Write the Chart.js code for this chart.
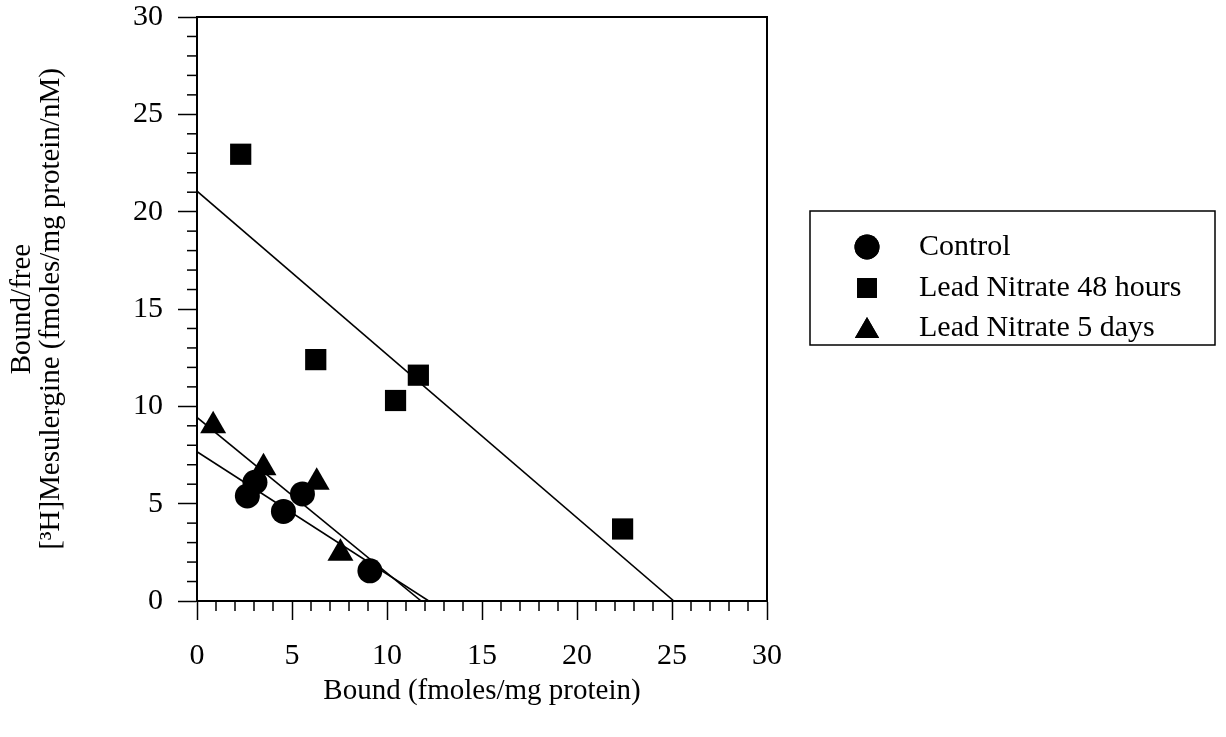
<!DOCTYPE html>
<html>
<head>
<meta charset="utf-8">
<script src="https://cdn.jsdelivr.net/npm/chart.js@4.4.1/dist/chart.umd.min.js"></script>
<style>
  html, body { margin: 0; padding: 0; background: #fff; }
  #wrap { width: 1226px; height: 737px; }
</style>
</head>
<body>
<div id="wrap"><canvas id="scatchardChart" width="1226" height="737"></canvas></div>
<script>
// Scatchard plot: [3H]mesulergine binding
const seriesNames = ['Control', 'Lead Nitrate 48 hours', 'Lead Nitrate 5 days'];
const seriesStyles = ['circle', 'rect', 'triangle'];

const controlBound = [2.65, 3.05, 4.55, 5.55, 9.1];
const controlRatio = [5.4, 6.1, 4.6, 5.5, 1.55];
const lead48Bound = [2.3, 6.25, 10.45, 11.65, 22.4];
const lead48Ratio = [22.95, 12.4, 10.3, 11.6, 3.7];
const lead5dBound = [0.85, 3.5, 6.3, 7.55];
const lead5dRatio = [9.0, 6.85, 6.1, 2.45];

// regression lines, end points (y-intercept and x-intercept)
const controlFitX = [0, 12.2];
const controlFitY = [7.67, 0];
const lead48FitX = [0, 25.1];
const lead48FitY = [21.05, 0];
const lead5dFitX = [0, 11.8];
const lead5dFitY = [9.43, 0];

const xTickLabels = ['0', '5', '10', '15', '20', '25', '30'];
const yTickLabels = ['0', '5', '10', '15', '20', '25', '30'];
const xTitle = 'Bound (fmoles/mg protein)';
const yTitle = ['Bound/free', '[\u00B3H]Mesulergine (fmoles/mg protein/nM)'];

const FONT = "'Liberation Serif', 'Times New Roman', serif";
const TICK_SIZE = 30;
const TITLE_SIZE = 29;

function toPoints(xs, ys) {
    return xs.map((x, i) => ({ x: x, y: ys[i] }));
}

function markerSet(label, style, xs, ys, r) {
    return {
        type: 'scatter',
        label: label,
        data: toPoints(xs, ys),
        pointStyle: style,
        pointRadius: r,
        pointHoverRadius: r,
        backgroundColor: '#000',
        borderColor: '#000',
        borderWidth: 0,
    };
}

function fitLine(xs, ys) {
    return {
        type: 'line',
        label: '',
        data: toPoints(xs, ys),
        borderColor: '#000',
        borderWidth: 1.6,
        pointRadius: 0,
        fill: false,
        showLine: true,
    };
}

// minor ticks every 1 unit, and the top / right frame
const framePlugin = {
    id: 'frame',
    afterDraw(chart) {
        const ctx = chart.ctx;
        const area = chart.chartArea;
        const xs = chart.scales.x;
        const ys = chart.scales.y;
        ctx.save();
        ctx.strokeStyle = '#000';
        ctx.lineWidth = 1.5;
        for (let v = 0; v <= 30; v++) {
            if (v % 5 === 0) continue;
            const px = xs.getPixelForValue(v);
            ctx.beginPath();
            ctx.moveTo(px, area.bottom);
            ctx.lineTo(px, area.bottom + 10);
            ctx.stroke();
            const py = ys.getPixelForValue(v);
            ctx.beginPath();
            ctx.moveTo(area.left, py);
            ctx.lineTo(area.left - 10, py);
            ctx.stroke();
        }
        ctx.lineWidth = 2;
        ctx.beginPath();
        ctx.moveTo(area.left, area.top);
        ctx.lineTo(area.right, area.top);
        ctx.lineTo(area.right, area.bottom);
        ctx.stroke();
        ctx.restore();
    }
};

// boxed legend to the right of the plot
const boxLegendPlugin = {
    id: 'boxLegend',
    afterDraw(chart) {
        const ctx = chart.ctx;
        const box = { left: 810, top: 211, right: 1215, bottom: 345 };
        const rows = [247, 288, 328];
        ctx.save();
        ctx.strokeStyle = '#000';
        ctx.lineWidth = 1.5;
        ctx.strokeRect(box.left, box.top, box.right - box.left, box.bottom - box.top);
        ctx.font = TICK_SIZE + 'px ' + FONT;
        ctx.fillStyle = '#000';
        ctx.textBaseline = 'middle';
        ctx.textAlign = 'left';
        chart.data.datasets.slice(0, 3).forEach((ds, i) => {
            Chart.helpers.drawPoint(ctx, {
                pointStyle: ds.pointStyle,
                radius: ds.pointStyle === 'circle' ? 12.5 : 14,
                borderWidth: 0,
                rotation: 0,
            }, 867, rows[i] + (ds.pointStyle === 'triangle' ? 3 : 0));
            ctx.fill();
            ctx.fillText(ds.label, 919, rows[i]);
        });
        ctx.restore();
    }
};

const ctx = document.getElementById('scatchardChart').getContext('2d');
const scatchardChart = new Chart(ctx, {
    data: {
        datasets: [
            markerSet(seriesNames[0], seriesStyles[0], controlBound, controlRatio, 12.5),
            markerSet(seriesNames[1], seriesStyles[1], lead48Bound, lead48Ratio, 15),
            markerSet(seriesNames[2], seriesStyles[2], lead5dBound, lead5dRatio, 15),
            fitLine(controlFitX, controlFitY),
            fitLine(lead48FitX, lead48FitY),
            fitLine(lead5dFitX, lead5dFitY),
        ],
    },
    options: {
        responsive: false,
        animation: false,
        layout: {
            padding: { left: 0, top: 17, right: 459, bottom: 0 },
        },
        plugins: {
            legend: { display: false },
            tooltip: { enabled: false },
        },
        scales: {
            x: {
                type: 'linear',
                position: 'bottom',
                min: 0,
                max: 30,
                afterFit(scale) {
                    scale.height = 136;
                    scale.paddingLeft = 0;
                    scale.paddingRight = 0;
                },
                ticks: {
                    stepSize: 5,
                    color: '#000',
                    padding: 18,
                    font: { family: FONT, size: TICK_SIZE },
                    callback: (v) => xTickLabels[v / 5],
                },
                grid: {
                    drawOnChartArea: false,
                    tickLength: 19,
                    tickColor: '#000',
                    tickWidth: 1.5,
                },
                border: { display: true, color: '#000', width: 2 },
                title: {
                    display: true,
                    text: xTitle,
                    color: '#000',
                    font: { family: FONT, size: TITLE_SIZE, lineHeight: 1 },
                    padding: { top: 0, bottom: 31 },
                },
            },
            y: {
                type: 'linear',
                position: 'left',
                min: 0,
                max: 30,
                afterFit(scale) {
                    scale.width = 197;
                    scale.paddingTop = 0;
                    scale.paddingBottom = 0;
                },
                ticks: {
                    stepSize: 5,
                    color: '#000',
                    padding: 15,
                    font: { family: FONT, size: TICK_SIZE },
                    callback: (v) => yTickLabels[v / 5],
                },
                grid: {
                    drawOnChartArea: false,
                    tickLength: 19,
                    tickColor: '#000',
                    tickWidth: 1.5,
                },
                border: { display: true, color: '#000', width: 2 },
                title: {
                    display: true,
                    text: yTitle,
                    color: '#000',
                    font: { family: FONT, size: TITLE_SIZE, lineHeight: '29px' },
                    padding: { top: 8, bottom: 0 },
                },
            },
        },
    },
    plugins: [framePlugin, boxLegendPlugin],
});
</script>
</body>
</html>
